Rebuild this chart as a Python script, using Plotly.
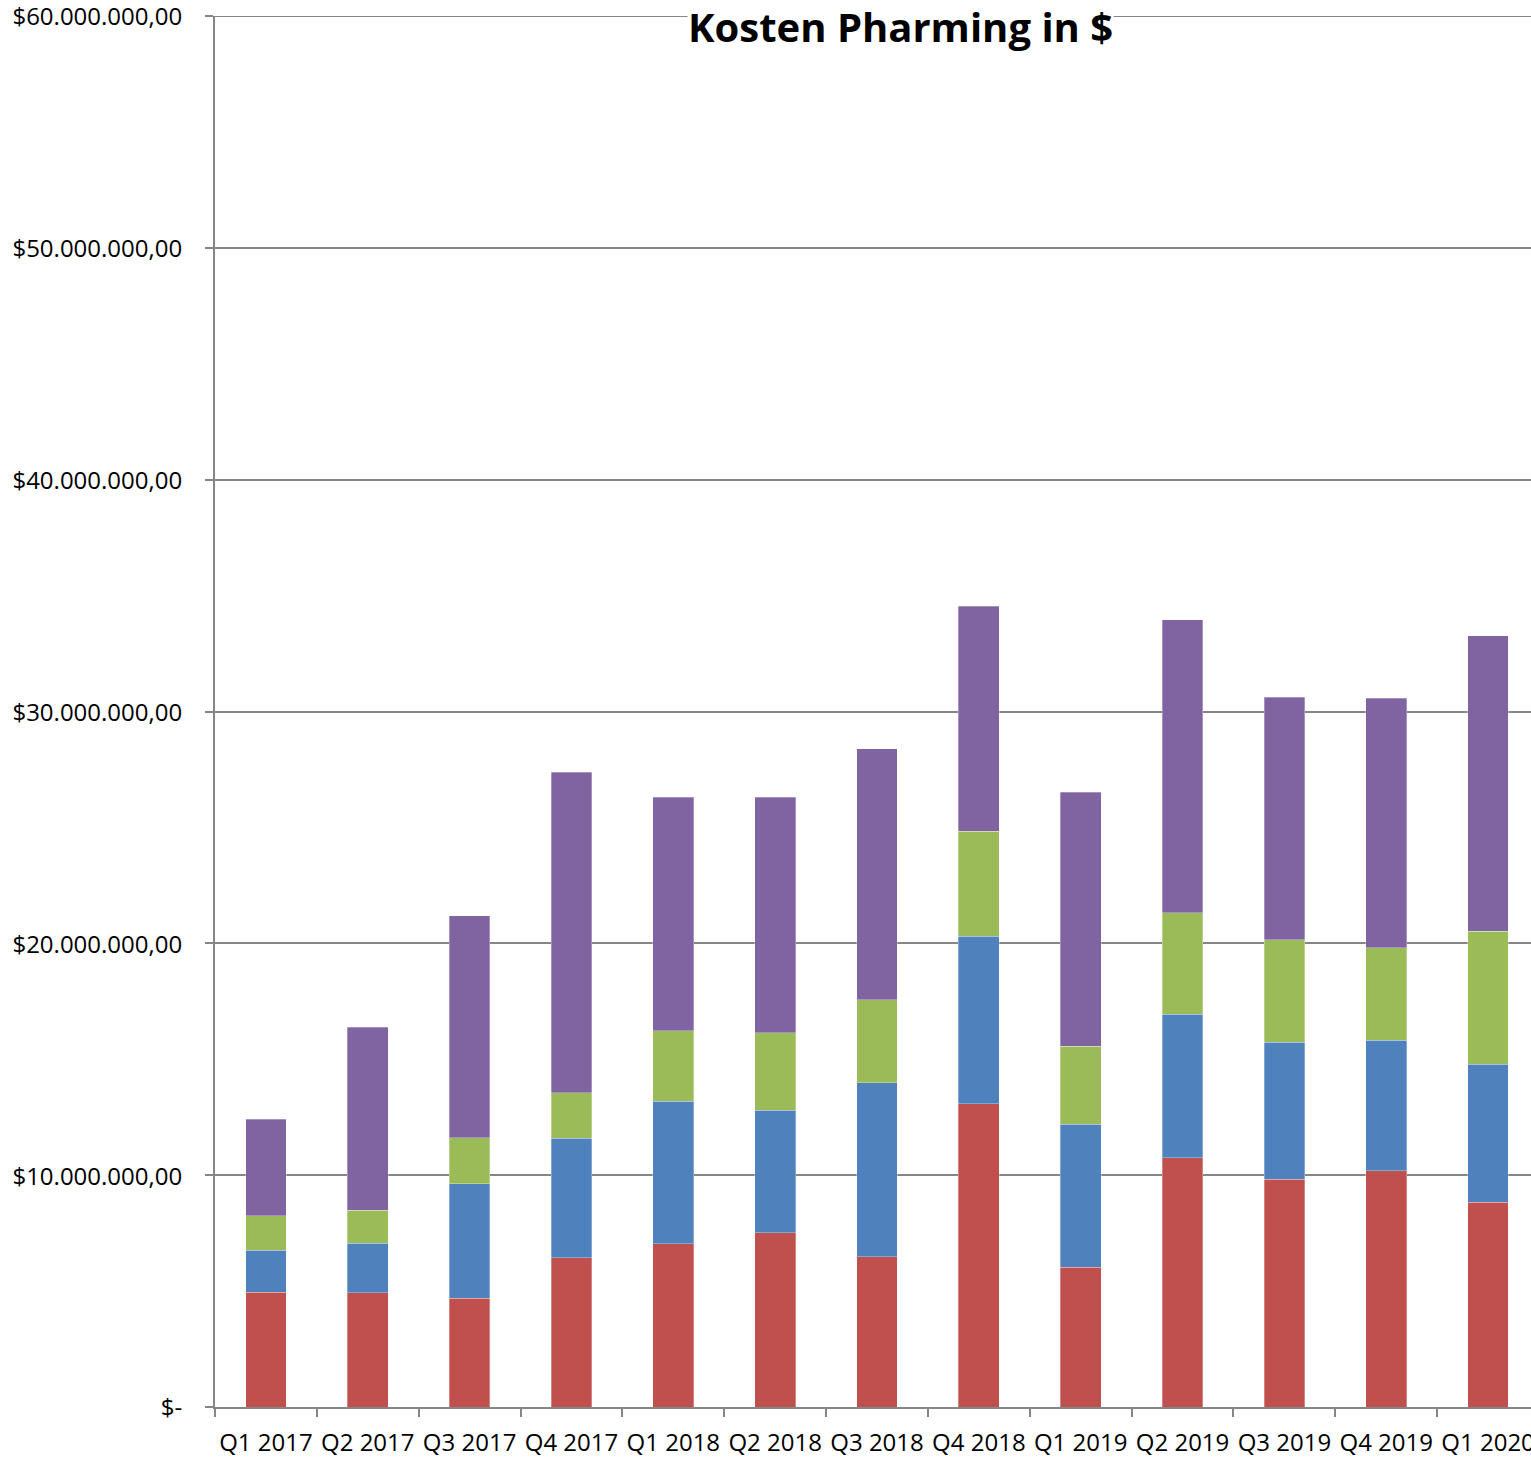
import plotly.graph_objects as go

quarters = ["Q1 2017", "Q2 2017", "Q3 2017", "Q4 2017", "Q1 2018", "Q2 2018", "Q3 2018",
            "Q4 2018", "Q1 2019", "Q2 2019", "Q3 2019", "Q4 2019", "Q1 2020"]

# values in $ (millions)
serie_rot = [4.96, 4.93, 4.70, 6.43, 7.05, 7.51, 6.48, 13.07, 6.03, 10.76, 9.82, 10.20, 8.83]
serie_blau = [1.81, 2.14, 4.93, 5.16, 6.14, 5.29, 7.50, 7.24, 6.17, 6.18, 5.92, 5.62, 5.96]
serie_gruen = [1.47, 1.42, 1.98, 1.96, 3.05, 3.34, 3.59, 4.52, 3.37, 4.38, 4.41, 3.98, 5.74]
serie_lila = [4.17, 7.90, 9.58, 13.84, 10.06, 10.16, 10.83, 9.70, 10.94, 12.63, 10.46, 10.78, 12.73]

y_tickvals = [0, 10e6, 20e6, 30e6, 40e6, 50e6, 60e6]
y_ticktext = ["$-", "$10.000.000,00", "$20.000.000,00", "$30.000.000,00",
              "$40.000.000,00", "$50.000.000,00", "$60.000.000,00"]

series = [
    ("Serie 1", serie_rot, "#C0504D"),
    ("Serie 2", serie_blau, "#4F81BD"),
    ("Serie 3", serie_gruen, "#9BBB59"),
    ("Serie 4", serie_lila, "#8064A2"),
]

fig = go.Figure()
for name, vals, col in series:
    fig.add_trace(go.Bar(
        x=quarters, y=[v * 1e6 for v in vals], name=name,
        marker=dict(color=col, line=dict(width=0.6, color="rgba(255,255,255,0.5)")),
    ))

font_main = "Open Sans, Noto Sans, sans-serif"
grid_col = "#868686"

W, H = 1531, 1457
ML, MT, MB = 215, 16, 50
plot_w = W - ML

fig.update_layout(
    barmode="stack",
    bargap=0.6,
    width=W, height=H,
    margin=dict(l=ML, r=0, t=MT, b=MB, pad=0),
    paper_bgcolor="white", plot_bgcolor="white",
    showlegend=False,
    font=dict(family=font_main, size=24, color="black"),
    xaxis=dict(
        type="category",
        range=[-0.5, 12.5 - 8 / 101.9],
        automargin=False,
        tickangle=0,
        showgrid=False,
        showline=True, linecolor=grid_col, linewidth=2,
        ticks="outside", ticklen=8, tickcolor=grid_col, tickwidth=2,
        tickson="boundaries",
        tickfont=dict(family=font_main, size=24, color="black"),
        ticklabelstandoff=13,
        ticklabeloverflow="allow",
    ),
    yaxis=dict(
        range=[0, 60e6],
        automargin=False,
        tickvals=y_tickvals, ticktext=y_ticktext,
        showgrid=True, gridcolor=grid_col, gridwidth=2,
        showline=True, linecolor=grid_col, linewidth=2,
        ticks="outside", ticklen=8, tickcolor=grid_col, tickwidth=2,
        tickfont=dict(family=font_main, size=24, color="black"),
        ticklabelstandoff=18,
        ticklabelshift=1,
        ticklabeloverflow="allow",
        zeroline=False,
    ),
)

# top gridline at $60.000.000,00
fig.add_shape(type="line", xref="paper", yref="y", x0=0, x1=1, y0=60e6, y1=60e6,
              line=dict(color=grid_col, width=2), layer="below")

fig.add_annotation(
    text="<b>Kosten Pharming in $</b>",
    xref="paper", yref="paper",
    x=(900 - ML) / plot_w, y=1,
    xanchor="center", yanchor="middle",
    yshift=-10,
    showarrow=False,
    bgcolor="white", borderpad=0,
    font=dict(family=font_main, size=40, color="black"),
)

fig.write_html(
    "out.html",
    config={"displayModeBar": False},
    post_script="document.body.style.margin='0';document.body.style.overflow='hidden';",
)
